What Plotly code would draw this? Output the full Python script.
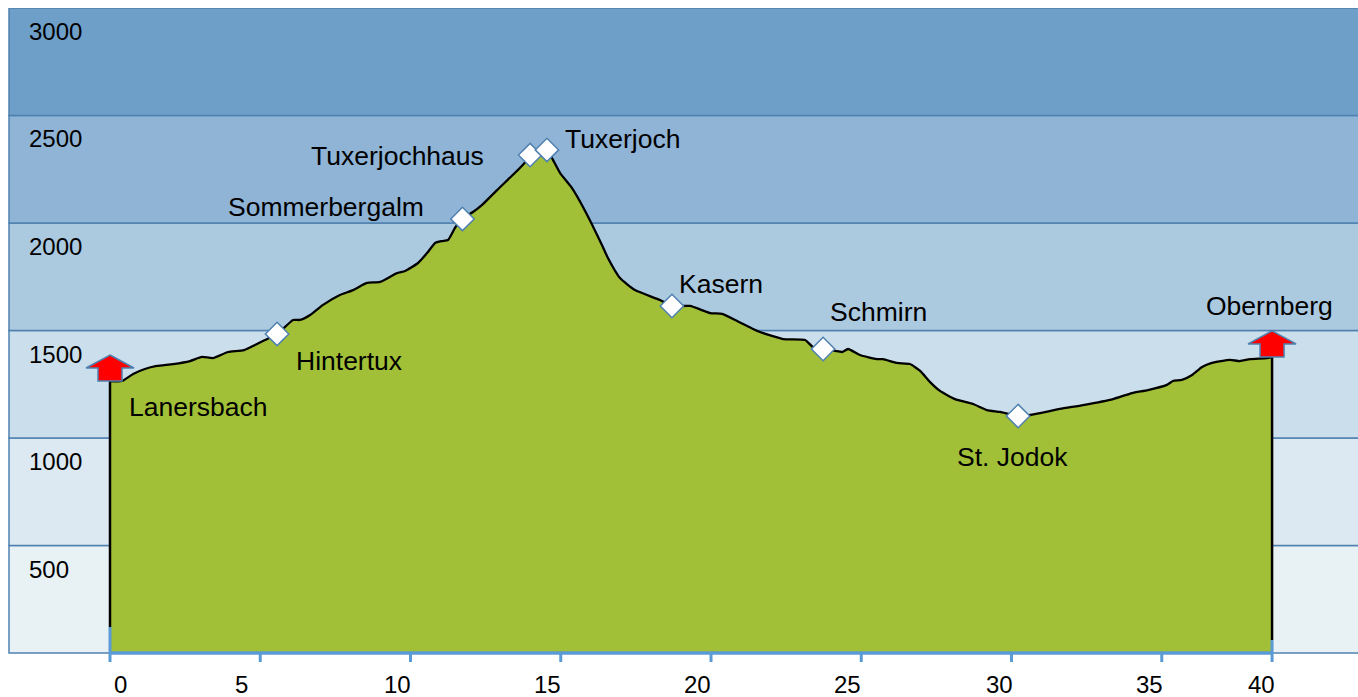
import plotly.graph_objects as go

# ---------- data ----------
distance_km = [0, .40, .77, 1.16, 1.56, 2.10, 2.66, 3.06, 3.43, 3.93, 4.46, 5.16, 5.56, 5.82, 6.09, 6.32, 6.66, 7.09,
               7.65, 8.09, 8.55, 8.99, 9.55, 9.82, 10.25, 10.55, 10.82, 11.05, 11.25, 11.48, 11.71, 12.08, 12.41,
               12.88, 13.64, 13.98, 14.31, 14.54, 14.71, 14.98, 15.37, 15.81, 16.37, 16.57, 16.97, 17.47, 18.30,
               18.70, 19.30, 19.97, 20.37, 20.87, 21.40, 21.63, 22.40, 23.13, 23.39, 23.73, 24.13, 24.36, 24.56,
               24.96, 25.52, 25.72, 26.19, 26.62, 26.96, 27.29, 27.62, 28.12, 28.72, 29.18, 29.62, 30.22, 30.62,
               31.61, 32.38, 33.38, 34.01, 34.54, 35.17, 35.37, 35.67, 36.01, 36.34, 36.67, 37.27, 37.60, 37.94,
               38.50, 38.67]
elevation_m = [1265, 1265, 1298, 1321, 1335, 1344, 1358, 1377, 1372, 1400, 1409, 1456, 1484, 1516, 1549, 1549, 1572,
               1619, 1665, 1688, 1721, 1726, 1767, 1777, 1814, 1860, 1907, 1916, 1921, 1977, 2019, 2051, 2088, 2153,
               2256, 2307, 2349, 2340, 2302, 2232, 2163, 2056, 1898, 1837, 1744, 1688, 1642, 1614, 1614, 1581, 1577,
               1544, 1507, 1493, 1460, 1456, 1423, 1414, 1405, 1400, 1414, 1386, 1367, 1367, 1349, 1344, 1312, 1260,
               1219, 1181, 1158, 1130, 1121, 1102, 1107, 1135, 1153, 1181, 1209, 1223, 1247, 1265, 1270, 1293, 1330,
               1349, 1363, 1358, 1367, 1372, 1377]

stop_km = [5.56, 11.73, 13.98, 14.54, 18.70, 23.73, 30.22]
stop_m = [1484, 2019, 2316, 2340, 1614, 1414, 1102]

end_km = [0, 38.67]
end_m = [1265, 1377]
end_low_m = [121, 60]

band_edges = [0, 500, 1000, 1500, 2000, 2500, 3000]
band_colors = ["#e8f2f5", "#dce8f2", "#cbdeeb", "#abc9df", "#8fb4d6", "#6d9fc8"]

y_tick_labels = ["500", "1000", "1500", "2000", "2500", "3000"]
x_tick_vals = [0, 5, 10, 15, 20, 25, 30, 35, 38.67]
x_tick_labels = ["0", "5", "10", "15", "20", "25", "30", "35", "40"]

place_names = ["Lanersbach", "Hintertux", "Sommerbergalm", "Tuxerjochhaus", "Tuxerjoch",
               "Kasern", "Schmirn", "St. Jodok", "Obernberg"]

# ---------- layout constants (pixels) ----------
W, H = 1358, 697
L, T, B = 9, 8, 35
PW, PH = W - L, H - T - B
Y_MIN = -41.9
label_px = [(126.5, 407), (293.5, 361), (225.5, 207), (308.5, 156), (562.5, 139), (676.5, 284), (827.5, 312),
            (954.5, 457), (1203.5, 306)]
x_label_px = [120.5, 241.5, 397.5, 547.5, 697.5, 847.5, 999.5, 1149.5, 1261.5]
FONT = "Liberation Sans, Arial, sans-serif"
BLUE = "#5b9bd5"
EDGE = "#4f81b0"


def px(x):
    return (x - L) / PW


def py(y):
    return 1 - (y - T) / PH


fig = go.Figure()
fig.add_trace(go.Scatter(x=distance_km, y=elevation_m, mode="lines", fill="tozeroy", fillcolor="#a2c037",
                         line=dict(color="black", width=2.3, shape="spline", smoothing=0.5), hoverinfo="skip"))
for xe, ye, lo in zip(end_km, end_m, end_low_m):
    fig.add_trace(go.Scatter(x=[xe, xe], y=[lo, ye], mode="lines", line=dict(color="black", width=2.5)))
    fig.add_trace(go.Scatter(x=[xe, xe], y=[0, lo], mode="lines", line=dict(color=BLUE, width=3)))
for xt in x_tick_vals:
    fig.add_trace(go.Scatter(x=[xt, xt], y=[0, Y_MIN], mode="lines", line=dict(color=BLUE, width=3)))
fig.add_trace(go.Scatter(x=[end_km[0], end_km[1]], y=[0, 0], mode="lines", line=dict(color=BLUE, width=3.5)))
fig.add_trace(go.Scatter(x=stop_km, y=stop_m, mode="markers",
                         marker=dict(symbol="diamond", size=18, color="white", line=dict(color=EDGE, width=1.5))))

shapes = []
for i, c in enumerate(band_colors):
    shapes.append(dict(type="rect", xref="paper", yref="y", x0=0, x1=1.01, y0=band_edges[i], y1=band_edges[i + 1],
                       fillcolor=c, line=dict(color=EDGE, width=1.5), layer="below"))
arrow = "M 0 26 L 24 13 L 12 13 L 12 0 L -12 0 L -12 13 L -24 13 Z"
for xe, ye in zip(end_km, end_m):
    shapes.append(dict(type="path", xref="x", yref="y", xsizemode="pixel", ysizemode="pixel", xanchor=xe, yanchor=ye,
                       path=arrow, fillcolor="#ff0000", line=dict(color=EDGE, width=1.5), layer="above"))

ann = []
for name, (x, y) in zip(place_names, label_px):
    ann.append(dict(text=name, xref="paper", yref="paper", x=px(x), y=py(y), xanchor="left", yanchor="middle",
                    showarrow=False, font=dict(family=FONT, size=26.5, color="black")))
for i, lab in enumerate(y_tick_labels):
    yp = T + 645 * (1 - band_edges[i + 1] / 3000) + 23.5
    ann.append(dict(text=lab, xref="paper", yref="paper", x=px(27), y=py(yp), xanchor="left", yanchor="middle",
                    showarrow=False, font=dict(family=FONT, size=24, color="black")))
for lab, x in zip(x_tick_labels, x_label_px):
    ann.append(dict(text=lab, xref="paper", yref="paper", x=px(x), y=py(684), xanchor="center", yanchor="middle",
                    showarrow=False, font=dict(family=FONT, size=24, color="black")))

fig.update_layout(
    width=W, height=H, margin=dict(l=L, r=0, t=T, b=B, pad=0), showlegend=False,
    paper_bgcolor="white", plot_bgcolor="white", shapes=shapes, annotations=ann,
    xaxis=dict(range=[-3.361, 41.53], showgrid=False, zeroline=False, showline=False, tickmode="array",
               tickvals=x_tick_vals, ticktext=x_tick_labels, showticklabels=False, ticks=""),
    yaxis=dict(range=[Y_MIN, 3000], visible=False),
)
fig.write_html("out.html", config=dict(displayModeBar=False), post_script="document.body.style.margin='0';")
